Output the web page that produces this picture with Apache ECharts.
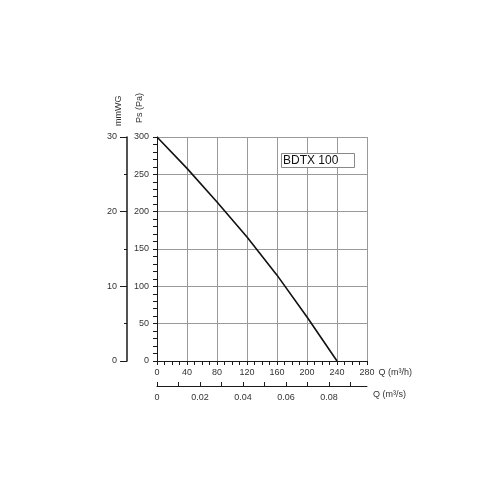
<!DOCTYPE html>
<html>
<head>
<meta charset="utf-8">
<script src="https://cdn.jsdelivr.net/npm/echarts@6/dist/echarts.min.js"></script>
<style>html,body{margin:0;padding:0;background:#fff;}#c{width:500px;height:500px;}</style>
</head>
<body>
<div id="c"></div>
<script>
// Fan curve BDTX 100: flow Q (m³/h) vs static pressure Ps (Pa)
const flowM3h = [0, 40, 80, 120, 160, 200, 240];
const pressurePa = [300, 258, 213, 166, 115, 59, 0];
// Secondary axis tick values (m³/s)
const flowM3sTicks = [0, 0.01, 0.02, 0.03, 0.04, 0.05, 0.06, 0.07, 0.08, 0.09];
const flowM3sLabels = [0, 0.02, 0.04, 0.06, 0.08];
const modelName = 'BDTX 100';

const font = 'Liberation Sans, Arial, sans-serif';
const axisColor = '#1a1a1a';
const labelColor = '#333';

const chart = echarts.init(document.getElementById('c'));
chart.setOption({
  backgroundColor: '#fff',
  animation: false,
  title: {
    text: modelName,
    left: 281, top: 153,
    padding: [2, 16, 1, 2],
    borderColor: '#888', borderWidth: 1,
    backgroundColor: '#fff',
    textStyle: { fontSize: 12, fontWeight: 'normal', color: '#111', fontFamily: font }
  },
  grid: { left: 157, right: 133, top: 137, bottom: 139, outerBoundsMode: 'none' },
  xAxis: [
    {
      type: 'value', min: 0, max: 280, interval: 40, position: 'bottom',
      axisLine: { show: true, onZero: false, lineStyle: { color: axisColor, width: 1 } },
      axisTick: { show: true, length: 4, lineStyle: { color: axisColor } },
      minorTick: { show: true, splitNumber: 4, length: 4, lineStyle: { color: axisColor } },
      splitLine: { show: true, lineStyle: { color: '#9a9a9a', width: 1 } },
      axisLabel: { fontSize: 9, color: labelColor, margin: 7, fontFamily: font },
      name: 'Q (m³/h)', nameLocation: 'end', nameGap: 5,
      nameTextStyle: { fontSize: 9, color: labelColor, fontFamily: font, verticalAlign: 'top', padding: [7, 0, 0, 0] }
    },
    {
      type: 'value', min: 0, max: 0.0977, interval: 0.02, position: 'bottom', offset: 25,
      axisLine: { show: true, onZero: false, lineStyle: { color: axisColor, width: 1 } },
      axisTick: { show: true, inside: true, length: 4, lineStyle: { color: axisColor }, customValues: flowM3sTicks },
      splitLine: { show: false },
      axisLabel: { fontSize: 9, color: labelColor, margin: 7, fontFamily: font, customValues: flowM3sLabels },
      name: 'Q (m³/s)', nameLocation: 'end', nameGap: 6,
      nameTextStyle: { fontSize: 9, color: labelColor, fontFamily: font, verticalAlign: 'top', padding: [4, 0, 0, 0] }
    }
  ],
  yAxis: [
    {
      type: 'value', min: 0, max: 300, interval: 50, position: 'left',
      axisLine: { show: true, onZero: false, lineStyle: { color: axisColor, width: 1 } },
      axisTick: { show: true, length: 4, lineStyle: { color: axisColor } },
      minorTick: { show: true, splitNumber: 5, length: 4, lineStyle: { color: axisColor } },
      splitLine: { show: true, lineStyle: { color: '#9a9a9a', width: 1 } },
      axisLabel: { fontSize: 9, color: labelColor, margin: 8, fontFamily: font }
    },
    {
      type: 'value', min: 0, max: 30, interval: 10, position: 'left', offset: 30,
      axisLine: { show: true, onZero: false, lineStyle: { color: axisColor, width: 1.5 } },
      axisTick: { show: true, length: 7, lineStyle: { color: axisColor } },
      minorTick: { show: true, splitNumber: 2, length: 3, lineStyle: { color: axisColor } },
      splitLine: { show: false },
      axisLabel: { fontSize: 9, color: labelColor, margin: 10, fontFamily: font }
    }
  ],
  graphic: [
    {
      type: 'text', x: 140, y: 123, rotation: Math.PI / 2,
      style: { text: 'Ps (Pa)', fontSize: 9, fill: labelColor, fontFamily: font, textAlign: 'left', textVerticalAlign: 'middle' }
    },
    {
      type: 'text', x: 118.5, y: 126, rotation: Math.PI / 2,
      style: { text: 'mmWG', fontSize: 9, fill: labelColor, fontFamily: font, textAlign: 'left', textVerticalAlign: 'middle' }
    }
  ],
  series: [
    {
      type: 'line', xAxisIndex: 0, yAxisIndex: 0,
      data: flowM3h.map((q, i) => [q, pressurePa[i]]),
      smooth: false, symbol: 'none',
      lineStyle: { color: '#111', width: 1.6 }
    }
  ]
});
</script>
</body>
</html>
